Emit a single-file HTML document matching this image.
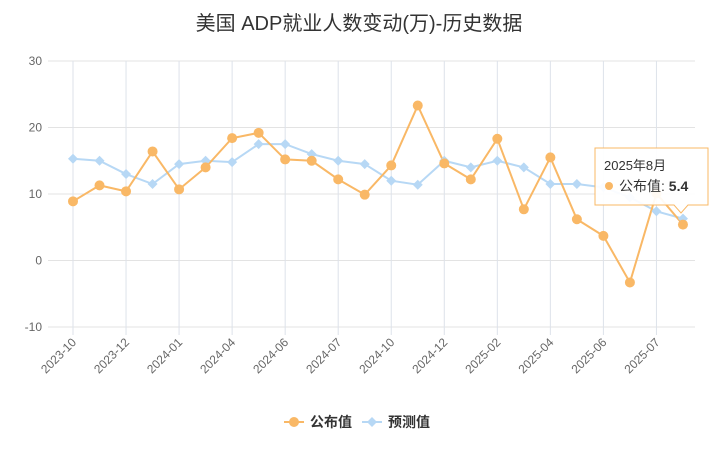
<!DOCTYPE html>
<html><head><meta charset="utf-8"><style>
body{margin:0;background:#fff;width:719px;height:466px;overflow:hidden;font-family:"Liberation Sans","Noto Sans CJK SC",sans-serif}
svg text{font-family:"Liberation Sans","Noto Sans CJK SC",sans-serif}
</style></head><body>
<svg id="chart" width="719" height="466">
<text x="359" y="30" text-anchor="middle" font-size="20" fill="#333">美国 ADP就业人数变动(万)-历史数据</text>
<g id="grid"></g><g id="series"></g>
<g>
<g>
<line x1="284" y1="422" x2="304" y2="422" stroke="#f9b866" stroke-width="2"/><circle cx="294" cy="422" r="5" fill="#f9b866"/>
<text x="310" y="427" font-size="14" font-weight="bold" fill="#333">公布值</text></g>
<g>
<line x1="362" y1="422" x2="382" y2="422" stroke="#b7d8f5" stroke-width="2"/><path d="M372 417 L377 422 L372 427 L367 422Z" fill="#b7d8f5"/>
<text x="388" y="427" font-size="14" font-weight="bold" fill="#333">预测值</text></g>
</g>
<g>
<path d="M595 148 H708 V205 H688 L681 213 L674 205 H595Z" fill="#fff" fill-opacity="0.92" stroke="#f9b866"/>
<text x="604" y="170" font-size="13" fill="#333">2025年8月</text>
<circle cx="609" cy="186" r="4" fill="#f9b866"/>
<text x="619" y="191" font-size="14" fill="#333">公布值: <tspan font-weight="bold">5.4</tspan></text>
</g>
</svg>
<script>
const categories=["2023-10","2023-11","2023-12","2024-01","2024-02","2024-03","2024-04","2024-05","2024-06","2024-07","2024-08","2024-09","2024-10","2024-11","2024-12","2025-01","2025-02","2025-03","2025-04","2025-05","2025-06","2025-07","2025-07b","2025-08"];
const tickLabels=["2023-10","2023-12","2024-01","2024-04","2024-06","2024-07","2024-10","2024-12","2025-02","2025-04","2025-06","2025-07"];
const published=[8.9,11.3,10.4,16.4,10.7,14.0,18.4,19.2,15.2,15.0,12.2,9.9,14.3,23.3,14.6,12.2,18.3,7.7,15.5,6.2,3.7,-3.3,10.1,5.4];
const forecast=[15.3,15.0,13.0,11.5,14.5,15.0,14.8,17.5,17.5,16.0,15.0,14.5,12.0,11.4,15.0,14.0,15.0,14.0,11.5,11.5,11.0,9.5,7.4,6.3];
const yTicks=[30,20,10,0,-10];
const NS="http://www.w3.org/2000/svg";
const x0=73,dx=26.52,yTop=61,yBot=327,yMin=-10,yMax=30;
const X=i=>x0+i*dx, Y=v=>yBot-(v-yMin)/(yMax-yMin)*(yBot-yTop);
function mk(t,a,p){const e=document.createElementNS(NS,t);for(const k in a)e.setAttribute(k,a[k]);p.appendChild(e);return e;}
const g=document.getElementById('grid'),s=document.getElementById('series');
yTicks.forEach(v=>{
 const l=mk('line',{x1:48,x2:695,y1:Y(v),y2:Y(v),stroke:'#e3e3e3'},g);
 
 
 const t=mk('text',{x:42,y:Y(v)+4,'text-anchor':'end','font-size':12,fill:'#666'},g);t.textContent=v;
 
 
});
tickLabels.forEach((lab,k)=>{
 const x=X(k*2);
 const l=mk('line',{x1:x,x2:x,y1:yTop,y2:yBot+8,stroke:'#dde2ea'},g);
 
 
 const t=mk('text',{x:x+4,y:yBot+16,'text-anchor':'end','font-size':12,fill:'#666',transform:`rotate(-45 ${x+4} ${yBot+16})`},g);t.textContent=lab;
 
 
});
function line(data,color,name){
 const p=mk('polyline',{points:data.map((v,i)=>X(i)+','+Y(v)).join(' '),fill:'none',stroke:color,'stroke-width':2},s);
 
 
}
line(forecast,'#b7d8f5','forecast');
line(published,'#f9b866','published');
forecast.forEach((v,i)=>{const x=X(i),y=Y(v);
 const d=mk('path',{d:`M${x} ${y-5}L${x+5} ${y}L${x} ${y+5}L${x-5} ${y}Z`,fill:'#b7d8f5'},s);
 
 });
published.forEach((v,i)=>{
 const c=mk('circle',{cx:X(i),cy:Y(v),r:5,fill:'#f9b866'},s);
 
 });
</script>
</body></html>
